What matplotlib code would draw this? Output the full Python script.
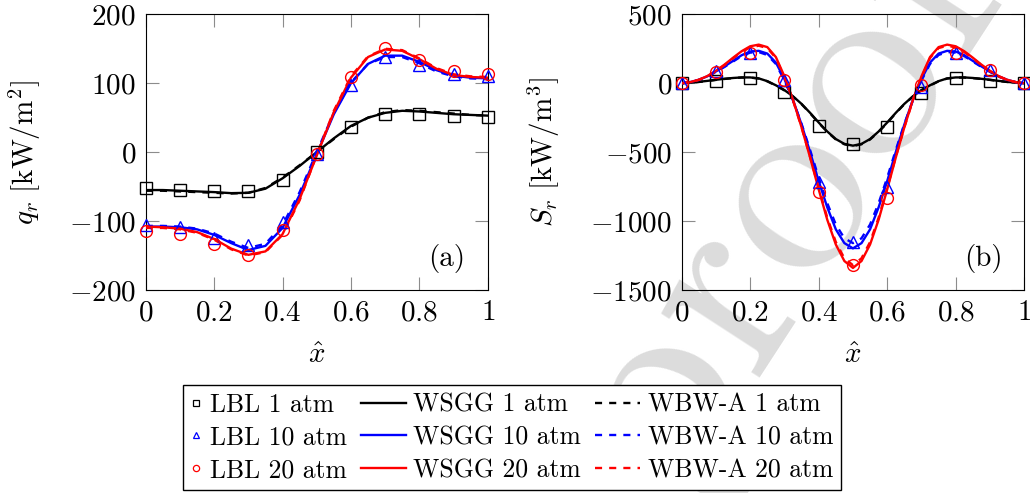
import numpy as np
import matplotlib
matplotlib.use('Agg')
import matplotlib.pyplot as plt
from matplotlib.lines import Line2D
from matplotlib.legend_handler import HandlerLine2D

# LaTeX-like look
plt.rcParams['font.family'] = 'cmr10'
plt.rcParams['mathtext.fontset'] = 'cm'
plt.rcParams['axes.formatter.use_mathtext'] = True

# DATA

x_qr = np.linspace(0, 1, 21)
x_sr = np.linspace(0, 1, 41)
x_lbl = np.linspace(0, 1, 11)

# (a) radiative heat flux q_r [kW/m^2]
qr_lbl1 = [-52.5, -55, -56, -57, -40, 0, 37, 56, 56, 52.5, 51.5]
qr_lbl10 = [-106, -108, -124, -135, -101, -2, 97, 138, 126, 113, 110]
qr_lbl20 = [-114, -119, -133, -149, -113, -3, 109, 151, 134, 118, 114]

qr_wsgg1 = [-55, -55, -56, -57, -58, -59.5, -59, -53, -38, -20, 0,
            20, 38, 50, 57, 60, 59, 57, 55, 54, 53]
qr_wbw1 = [-56, -56, -57, -58, -59, -60, -59, -52, -37, -19, 0,
           19, 37, 50, 58, 61, 60, 58, 56, 54, 53]
qr_wsgg10 = [-108, -108, -109, -112, -120, -132, -142, -136, -110, -62, -3,
             55, 100, 128, 140, 140, 131, 119, 111, 108, 107]
qr_wbw10 = [-107, -107, -108, -111, -118, -130, -139, -133, -106, -58, 0,
            57, 101, 128, 138, 138, 129, 117, 110, 107, 106]
qr_wsgg20 = [-108, -109, -111, -116, -126, -140, -149, -144, -119, -68, -5,
             58, 108, 138, 149, 147, 135, 121, 112, 109, 108]
qr_wbw20 = [-110, -110, -112, -117, -127, -141, -150, -145, -120, -70, -4,
            60, 110, 139, 150, 148, 136, 122, 113, 110, 109]

# (b) radiative source term S_r [kW/m^3]
sr_lbl1 = [0, 16, 36, -61, -308, -443, -315, -73, 40, 16, 0]
sr_lbl10 = [0, 89, 217, 24, -714, -1154, -750, -29, 217, 96, 0]
sr_lbl20 = [0, 84, 222, 24, -791, -1319, -835, -13, 222, 96, 0]

sr_wsgg1 = [0, 4, 10, 17, 25, 32, 38, 42, 42, 35, 15, -15, -50, -95, -150,
            -215, -285, -350, -405, -440, -453, -440, -405, -350, -285, -215,
            -150, -95, -50, -15, 15, 35, 42, 42, 38, 32, 25, 17, 10, 4, 0]
sr_wbw1 = [0, 4, 9, 16, 24, 31, 37, 41, 41, 34, 14, -17, -52, -97, -152,
           -218, -288, -353, -408, -443, -456, -443, -408, -353, -288, -218,
           -152, -97, -52, -17, 14, 34, 41, 41, 37, 31, 24, 16, 9, 4, 0]
sr_wsgg10 = [0, 8, 25, 50, 85, 122, 162, 203, 230, 235, 215, 150, 30, -120,
             -300, -500, -710, -900, -1060, -1160, -1198, -1160, -1060, -900,
             -710, -500, -300, -120, 30, 150, 215, 235, 230, 203, 162, 122,
             85, 50, 25, 8, 0]
sr_wbw10 = [0, 8, 24, 48, 82, 118, 157, 197, 222, 226, 205, 140, 20, -125,
            -295, -485, -685, -870, -1025, -1125, -1160, -1125, -1025, -870,
            -685, -485, -295, -125, 20, 140, 205, 226, 222, 197, 157, 118,
            82, 48, 24, 8, 0]
sr_wsgg20 = [0, 8, 25, 52, 90, 135, 185, 232, 268, 280, 262, 190, 50, -120,
             -320, -540, -770, -990, -1170, -1290, -1340, -1290, -1170, -990,
             -770, -540, -320, -120, 50, 190, 262, 280, 268, 232, 185, 135,
             90, 52, 25, 8, 0]
sr_wbw20 = [0, 8, 24, 50, 87, 131, 180, 226, 260, 272, 255, 183, 42, -125,
            -320, -535, -760, -975, -1152, -1270, -1320, -1270, -1152, -975,
            -760, -535, -320, -125, 42, 183, 255, 272, 260, 226, 180, 131,
            87, 50, 24, 8, 0]

xticks = [0, 0.2, 0.4, 0.6, 0.8, 1]
xtick_labels = ['$0$', '$0.2$', '$0.4$', '$0.6$', '$0.8$', '$1$']
qr_ticks = [-200, -100, 0, 100, 200]
qr_tick_labels = ['$-200$', '$-100$', '$0$', '$100$', '$200$']
sr_ticks = [-1500, -1000, -500, 0, 500]
sr_tick_labels = ['$-1500$', '$-1000$', '$-500$', '$0$', '$500$']

colors = ['black', 'blue', 'red']
pressures = ['1', '10', '20']
markers = ['s', '^', 'o']
fs = 21
dash = (0, (3, 3))


class LongLine(HandlerLine2D):
    # legend line that reaches further left than the handle box
    def get_xdata(self, legend, xdescent, ydescent, width, height, fontsize):
        xdata, xm = super().get_xdata(legend, xdescent, ydescent, width,
                                      height, fontsize)
        return [xdata[0] - 1.3 * fontsize, xdata[-1]], xm


fig = plt.figure(figsize=(10.3, 4.93), dpi=100)
ax1 = fig.add_axes([0.1415, 0.4118, 0.332, 0.5592])
ax2 = fig.add_axes([0.6618, 0.4118, 0.3326, 0.5592])

# watermark behind everything
fig.text(0.757, 0.575, 'proof', rotation=57, fontsize=195, color='#dcdcdc',
         ha='center', va='center', zorder=-1, family='cmr10')

panels = [
    (ax1, x_qr, [qr_lbl1, qr_lbl10, qr_lbl20], [qr_wsgg1, qr_wsgg10, qr_wsgg20],
     [qr_wbw1, qr_wbw10, qr_wbw20], qr_ticks, qr_tick_labels, (-200, 200),
     r'$q_r\ [\mathrm{kW/m^2}]$', '(a)', -0.30),
    (ax2, x_sr, [sr_lbl1, sr_lbl10, sr_lbl20], [sr_wsgg1, sr_wsgg10, sr_wsgg20],
     [sr_wbw1, sr_wbw10, sr_wbw20], sr_ticks, sr_tick_labels, (-1500, 500),
     r'$S_r\ [\mathrm{kW/m^3}]$', '(b)', -0.35),
]

for ax, xl, lbl, wsgg, wbw, yt, ytl, ylim, ylab, tag, ylab_x in panels:
    ax.set_facecolor('none')
    for i in range(3):
        ax.plot(xl, wsgg[i], '-', color=colors[i], lw=1.7, zorder=3)
        ax.plot(xl, wbw[i], color=colors[i], lw=1.7, ls=dash, zorder=3)
        ax.plot(x_lbl, lbl[i], ls='none', marker=markers[i], mfc='none',
                mec=colors[i], mew=1.0, ms=8.5 if i != 1 else 8,
                clip_on=False, zorder=4)
    ax.set_xlim(0, 1)
    ax.set_ylim(*ylim)
    ax.set_xticks(xticks, xtick_labels)
    ax.set_yticks(yt, ytl)
    ax.tick_params(direction='in', length=9.4, width=0.8, color='0.55',
                   top=True, right=True, labelsize=fs, pad=7, labelcolor='black')
    for sp in ax.spines.values():
        sp.set_linewidth(0.8)
    ax.set_ylabel(ylab, fontsize=fs)
    ax.yaxis.set_label_coords(ylab_x, 0.5)
    ax.set_xlabel(r'$\hat{x}$', fontsize=fs)
    ax.xaxis.set_label_coords(0.5, -0.19)
    ax.text(0.88, 0.115, tag, transform=ax.transAxes, fontsize=fs,
            ha='center', va='center')

# legend
handles = []
labels = []
for i in range(3):
    handles.append(Line2D([], [], ls='none', marker=markers[i], mfc='none',
                          mec=colors[i], mew=0.9, ms=4.5))
    labels.append('LBL ' + pressures[i] + ' atm')
line_handles = []
for i in range(3):
    line_handles.append(Line2D([], [], color=colors[i], lw=1.7))
    labels.append('WSGG ' + pressures[i] + ' atm')
for i in range(3):
    line_handles.append(Line2D([], [], color=colors[i], lw=1.7, ls=dash))
    labels.append('WBW-A ' + pressures[i] + ' atm')
handles += line_handles

leg = fig.legend(handles, labels, ncol=3, loc='center',
                 bbox_to_anchor=(0.497, 0.1126), fontsize=18.5, frameon=True,
                 fancybox=False, edgecolor='black', framealpha=1,
                 handlelength=0.45, handletextpad=0.3, columnspacing=1.85,
                 labelspacing=0.35, borderpad=0.3,
                 handler_map={h: LongLine() for h in line_handles})
leg.get_frame().set_linewidth(1.0)

fig.savefig('out.png', dpi=100)
